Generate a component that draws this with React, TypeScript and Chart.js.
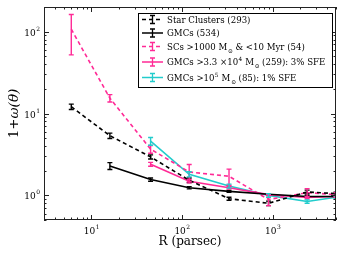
import React, { useEffect, useRef } from "react";
import { Chart, registerables } from "chart.js";

Chart.register(...registerables);

const R = [6, 16, 45, 120, 330, 900, 2400, 5000];

const starClusters = [12.1, 5.35, 2.95, 1.53, 0.91, 0.8, 1.1, 1.05];
const starClustersErr = [0.9, 0.4, 0.17, 0.1, 0.04, 0.05, 0.06, 0.04];

const gmcs = [null, 2.29, 1.56, 1.24, 1.12, 1.03, 0.97, 0.97];
const gmcsErr = [null, 0.22, 0.07, 0.04, 0.03, 0.02, 0.02, 0.02];

const scsYoung = [107, 15.4, 3.67, 1.93, 1.71, 0.89, 1.08, 1.02];
const scsYoungErr = [55, 1.6, 0.4, 0.45, 0.38, 0.14, 0.13, 0.06];

const gmcs33 = [null, null, 2.4, 1.49, 1.24, 1.02, 0.94, 0.97];
const gmcs33Err = [null, null, 0.13, 0.07, 0.05, 0.03, 0.03, 0.03];

const gmcs1e5 = [null, null, 4.6, 1.81, 1.3, 1.0, 0.84, 0.95];
const gmcs1e5Err = [null, null, 0.5, 0.13, 0.07, 0.05, 0.04, 0.04];

const xTickLabels = ["10", "10", "10"];
const xTickExps = ["1", "2", "3"];
const yTickExps = ["0", "1", "2"];

const PINK = "#ff2a96";
const CYAN = "#22cccc";
const BLACK = "#000000";
const FONT = "'DejaVu Serif', serif";

type Seg = [string, "n" | "sup" | "sub"];

const legendItems: { color: string; dash: number[]; segs: Seg[] }[] = [
  { color: BLACK, dash: [4, 3], segs: [["Star Clusters (293)", "n"]] },
  { color: BLACK, dash: [], segs: [["GMCs (534)", "n"]] },
  {
    color: PINK,
    dash: [4, 3],
    segs: [["SCs >1000 M", "n"], ["\u2299", "sub"], [" & <10 Myr (54)", "n"]],
  },
  {
    color: PINK,
    dash: [],
    segs: [["GMCs >3.3 \u00d710", "n"], ["4", "sup"], [" M", "n"], ["\u2299", "sub"], [" (259): 3% SFE", "n"]],
  },
  {
    color: CYAN,
    dash: [],
    segs: [["GMCs >10", "n"], ["5", "sup"], [" M", "n"], ["\u2299", "sub"], [" (85): 1% SFE", "n"]],
  },
];

const mk = (vals: (number | null)[]) => R.map((x, i) => ({ x, y: vals[i] }));

export default function App() {
  const ref = useRef<HTMLCanvasElement | null>(null);
  useEffect(() => {
    if (!ref.current) return;
    const errs = [starClustersErr, gmcsErr, scsYoungErr, gmcs33Err, gmcs1e5Err];
    const vals = [starClusters, gmcs, scsYoung, gmcs33, gmcs1e5];

    const minorTicks = (min: number, max: number) => {
      const t: { value: number }[] = [];
      for (let e = -1; e <= 4; e++) {
        for (let m = 1; m <= 9; m++) {
          const v = m * Math.pow(10, e);
          if (v >= min * 0.999 && v <= max * 1.001) t.push({ value: v });
        }
      }
      return t;
    };

    const plugin = {
      id: "custom",
      afterDatasetsDraw(chart: any) {
        const ctx = chart.ctx;
        const xs = chart.scales.x;
        const ys = chart.scales.y;
        ctx.save();
        const ca = chart.chartArea;
        ctx.beginPath();
        ctx.rect(ca.left, ca.top, ca.right - ca.left, ca.bottom - ca.top);
        ctx.clip();
        chart.data.datasets.forEach((ds: any, di: number) => {
          ctx.strokeStyle = ds.borderColor;
          ctx.lineWidth = 1.4;
          ctx.setLineDash([]);
          R.forEach((x, i) => {
            const v = vals[di][i];
            const e = errs[di][i];
            if (v == null || e == null) return;
            const px = xs.getPixelForValue(x);
            const y1 = ys.getPixelForValue(v + e);
            const y2 = ys.getPixelForValue(Math.max(v - e, 0.01));
            ctx.beginPath();
            ctx.moveTo(px, y1);
            ctx.lineTo(px, y2);
            ctx.moveTo(px - 2.5, y1);
            ctx.lineTo(px + 2.5, y1);
            ctx.moveTo(px - 2.5, y2);
            ctx.lineTo(px + 2.5, y2);
            ctx.stroke();
          });
        });
        ctx.restore();
      },
      afterDraw(chart: any) {
        const ctx = chart.ctx;
        const ca = chart.chartArea;
        const xs = chart.scales.x;
        const ys = chart.scales.y;
        ctx.save();
        ctx.strokeStyle = "#222";
        ctx.lineWidth = 1;
        ctx.setLineDash([]);
        ctx.strokeRect(ca.left + 0.5, ca.top + 0.5, ca.right - ca.left - 1, ca.bottom - ca.top - 1);
        // x ticks
        xs.ticks.forEach((t: any) => {
          const lg = Math.log10(t.value);
          const major = Math.abs(lg - Math.round(lg)) < 1e-6;
          const len = major ? 5 : 2.5;
          const px = Math.round(xs.getPixelForValue(t.value)) + 0.5;
          ctx.beginPath();
          ctx.moveTo(px, ca.bottom);
          ctx.lineTo(px, ca.bottom - len);
          ctx.moveTo(px, ca.top);
          ctx.lineTo(px, ca.top + len);
          ctx.stroke();
        });
        ys.ticks.forEach((t: any) => {
          const lg = Math.log10(t.value);
          const major = Math.abs(lg - Math.round(lg)) < 1e-6;
          const len = major ? 5 : 2.5;
          const py = Math.round(ys.getPixelForValue(t.value)) + 0.5;
          ctx.beginPath();
          ctx.moveTo(ca.left, py);
          ctx.lineTo(ca.left + len, py);
          ctx.moveTo(ca.right, py);
          ctx.lineTo(ca.right - len, py);
          ctx.stroke();
        });
        // tick labels
        ctx.fillStyle = "#000";
        ctx.textBaseline = "alphabetic";
        [10, 100, 1000].forEach((v, i) => {
          const px = xs.getPixelForValue(v);
          ctx.font = `9px ${FONT}`;
          const w1 = ctx.measureText(xTickLabels[i]).width;
          ctx.font = `6px ${FONT}`;
          const w2 = ctx.measureText(xTickExps[i]).width;
          const x0 = px - (w1 + w2) / 2;
          ctx.font = `9px ${FONT}`;
          ctx.textAlign = "left";
          ctx.fillText(xTickLabels[i], x0, ca.bottom + 14);
          ctx.font = `6px ${FONT}`;
          ctx.fillText(xTickExps[i], x0 + w1 + 0.5, ca.bottom + 9);
        });
        [1, 10, 100].forEach((v, i) => {
          const py = ys.getPixelForValue(v);
          ctx.font = `6px ${FONT}`;
          const w2 = ctx.measureText(yTickExps[i]).width;
          ctx.font = `9px ${FONT}`;
          const w1 = ctx.measureText("10").width;
          const xr = ca.left - 4;
          ctx.textAlign = "left";
          ctx.fillText("10", xr - w2 - w1 - 0.5, py + 4);
          ctx.font = `6px ${FONT}`;
          ctx.fillText(yTickExps[i], xr - w2, py - 1);
        });
        // x title
        ctx.font = `12px ${FONT}`;
        ctx.textAlign = "center";
        ctx.fillText("R (parsec)", (ca.left + ca.right) / 2, 245);
        // y title
        ctx.save();
        ctx.translate(17.5, (ca.top + ca.bottom) / 2);
        ctx.rotate(-Math.PI / 2);
        const parts: [string, string][] = [["1+", `13.5px ${FONT}`], ["\u03c9(\u03b8)", `italic 13.5px ${FONT}`]];
        let tw = 0;
        parts.forEach(([s, f]) => { ctx.font = f; tw += ctx.measureText(s).width; });
        let cx = -tw / 2;
        ctx.textAlign = "left";
        parts.forEach(([s, f]) => { ctx.font = f; ctx.fillText(s, cx, 0); cx += ctx.measureText(s).width; });
        ctx.restore();
        // legend
        const lx = 138.5, ly = 13.5, lw = 194, lh = 74;
        ctx.fillStyle = "#fff";
        ctx.fillRect(lx, ly, lw, lh);
        ctx.strokeStyle = "#000";
        ctx.lineWidth = 1;
        ctx.strokeRect(lx, ly, lw, lh);
        const rowsY = [19.5, 33, 46.5, 62, 77.5];
        legendItems.forEach((it, i) => {
          const y = rowsY[i];
          ctx.strokeStyle = it.color;
          ctx.lineWidth = 1.5;
          ctx.setLineDash(it.dash);
          ctx.beginPath();
          ctx.moveTo(142, y);
          ctx.lineTo(163, y);
          ctx.stroke();
          ctx.setLineDash([]);
          ctx.lineWidth = 1.3;
          ctx.beginPath();
          ctx.moveTo(152.5, y - 4);
          ctx.lineTo(152.5, y + 4);
          ctx.moveTo(150, y - 4);
          ctx.lineTo(155, y - 4);
          ctx.moveTo(150, y + 4);
          ctx.lineTo(155, y + 4);
          ctx.stroke();
          ctx.fillStyle = "#000";
          ctx.textAlign = "left";
          let x = 167;
          it.segs.forEach(([s, m]) => {
            if (m === "n") {
              ctx.font = `8.6px ${FONT}`;
              ctx.fillText(s, x, y + 3.1);
            } else if (m === "sup") {
              ctx.font = `5.8px ${FONT}`;
              ctx.fillText(s, x + 0.3, y - 0.8);
            } else {
              ctx.font = `5.8px ${FONT}`;
              ctx.fillText(s, x + 0.8, y + 6.3);
            }
            x += ctx.measureText(s).width + (m === "n" ? 0 : 0.6);
          });
        });
        ctx.restore();
      },
    };

    const lineDs = (label: string, data: (number | null)[], color: string, dash: number[]) => ({
      label,
      data: mk(data),
      borderColor: color,
      backgroundColor: color,
      borderWidth: 1.6,
      borderDash: dash,
      pointRadius: 0,
      spanGaps: false,
      tension: 0,
    });

    const chart = new Chart(ref.current, {
      type: "line",
      data: {
        datasets: [
          lineDs("Star Clusters (293)", starClusters, BLACK, [4, 3]),
          lineDs("GMCs (534)", gmcs, BLACK, []),
          lineDs("SCs >1000 M⊙ & <10 Myr (54)", scsYoung, PINK, [4, 3]),
          lineDs("GMCs >3.3×10⁴ M⊙ (259): 3% SFE", gmcs33, PINK, []),
          lineDs("GMCs >10⁵ M⊙ (85): 1% SFE", gmcs1e5, CYAN, []),
        ] as any,
      },
      options: {
        animation: false,
        responsive: false,
        maintainAspectRatio: false,
        layout: { padding: { top: 7, right: 8, left: 0, bottom: 0 } },
        plugins: { legend: { display: false }, tooltip: { enabled: false } },
        scales: {
          x: {
            type: "logarithmic",
            min: 3,
            max: 5000,
            grid: { display: false },
            border: { display: false },
            ticks: { display: false },
            afterBuildTicks: (s: any) => { s.ticks = minorTicks(3, 5000); },
            afterFit: (s: any) => { s.height = 38; },
          },
          y: {
            type: "logarithmic",
            min: 0.5,
            max: 200,
            grid: { display: false },
            border: { display: false },
            ticks: { display: false },
            afterBuildTicks: (s: any) => { s.ticks = minorTicks(0.5, 200); },
            afterFit: (s: any) => { s.width = 44; },
          },
        },
      } as any,
      plugins: [plugin],
    });
    return () => chart.destroy();
  }, []);
  return (
    <div style={{ position: "fixed", left: 0, top: 0, width: 344, height: 258, background: "#fff" }}>
      <canvas ref={ref} width={344} height={258} style={{ width: 344, height: 258 }} />
    </div>
  );
}
